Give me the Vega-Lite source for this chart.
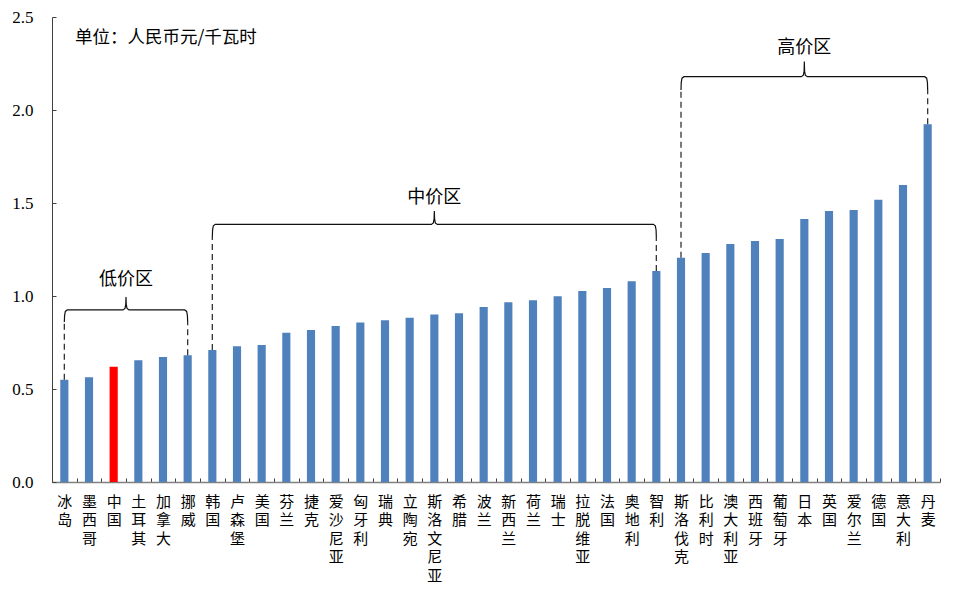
{
  "$schema": "https://vega.github.io/schema/vega-lite/v6.json",
  "width": 888,
  "height": 465,
  "autosize": {"type": "none"},
  "padding": {"left": 52, "top": 17, "right": 38, "bottom": 114},
  "config": {"view": {"stroke": null}, "font": "Noto Sans CJK SC"},
  "datasets": {
    "bars": [
      {"c": "冰岛", "v": 0.55, "hl": "n"},
      {"c": "墨西哥", "v": 0.563, "hl": "n"},
      {"c": "中国", "v": 0.62, "hl": "y"},
      {"c": "土耳其", "v": 0.655, "hl": "n"},
      {"c": "加拿大", "v": 0.672, "hl": "n"},
      {"c": "挪威", "v": 0.682, "hl": "n"},
      {"c": "韩国", "v": 0.71, "hl": "n"},
      {"c": "卢森堡", "v": 0.73, "hl": "n"},
      {"c": "美国", "v": 0.736, "hl": "n"},
      {"c": "芬兰", "v": 0.802, "hl": "n"},
      {"c": "捷克", "v": 0.817, "hl": "n"},
      {"c": "爱沙尼亚", "v": 0.839, "hl": "n"},
      {"c": "匈牙利", "v": 0.857, "hl": "n"},
      {"c": "瑞典", "v": 0.869, "hl": "n"},
      {"c": "立陶宛", "v": 0.883, "hl": "n"},
      {"c": "斯洛文尼亚", "v": 0.901, "hl": "n"},
      {"c": "希腊", "v": 0.907, "hl": "n"},
      {"c": "波兰", "v": 0.941, "hl": "n"},
      {"c": "新西兰", "v": 0.966, "hl": "n"},
      {"c": "荷兰", "v": 0.977, "hl": "n"},
      {"c": "瑞士", "v": 0.998, "hl": "n"},
      {"c": "拉脱维亚", "v": 1.027, "hl": "n"},
      {"c": "法国", "v": 1.043, "hl": "n"},
      {"c": "奥地利", "v": 1.079, "hl": "n"},
      {"c": "智利", "v": 1.134, "hl": "n"},
      {"c": "斯洛伐克", "v": 1.206, "hl": "n"},
      {"c": "比利时", "v": 1.231, "hl": "n"},
      {"c": "澳大利亚", "v": 1.28, "hl": "n"},
      {"c": "西班牙", "v": 1.296, "hl": "n"},
      {"c": "葡萄牙", "v": 1.306, "hl": "n"},
      {"c": "日本", "v": 1.414, "hl": "n"},
      {"c": "英国", "v": 1.457, "hl": "n"},
      {"c": "爱尔兰", "v": 1.462, "hl": "n"},
      {"c": "德国", "v": 1.518, "hl": "n"},
      {"c": "意大利", "v": 1.597, "hl": "n"},
      {"c": "丹麦", "v": 1.923, "hl": "n"}
    ],
    "br": [
      {"g": "low", "o": 0, "x": 0.5, "y": 0.86},
      {"g": "low", "o": 1, "x": 0.51, "y": 0.895},
      {"g": "low", "o": 2, "x": 0.54, "y": 0.917},
      {"g": "low", "o": 3, "x": 0.62, "y": 0.925},
      {"g": "low", "o": 4, "x": 2.88, "y": 0.925},
      {"g": "low", "o": 5, "x": 2.96, "y": 0.933},
      {"g": "low", "o": 6, "x": 2.99, "y": 0.955},
      {"g": "low", "o": 7, "x": 3.0, "y": 0.995},
      {"g": "low", "o": 8, "x": 3.01, "y": 0.955},
      {"g": "low", "o": 9, "x": 3.04, "y": 0.933},
      {"g": "low", "o": 10, "x": 3.12, "y": 0.925},
      {"g": "low", "o": 11, "x": 5.38, "y": 0.925},
      {"g": "low", "o": 12, "x": 5.46, "y": 0.917},
      {"g": "low", "o": 13, "x": 5.49, "y": 0.895},
      {"g": "low", "o": 14, "x": 5.5, "y": 0.86},
      {"g": "mid", "o": 0, "x": 6.5, "y": 1.317},
      {"g": "mid", "o": 1, "x": 6.51, "y": 1.355},
      {"g": "mid", "o": 2, "x": 6.54, "y": 1.377},
      {"g": "mid", "o": 3, "x": 6.62, "y": 1.385},
      {"g": "mid", "o": 4, "x": 15.38, "y": 1.385},
      {"g": "mid", "o": 5, "x": 15.46, "y": 1.393},
      {"g": "mid", "o": 6, "x": 15.49, "y": 1.415},
      {"g": "mid", "o": 7, "x": 15.5, "y": 1.457},
      {"g": "mid", "o": 8, "x": 15.51, "y": 1.415},
      {"g": "mid", "o": 9, "x": 15.54, "y": 1.393},
      {"g": "mid", "o": 10, "x": 15.62, "y": 1.385},
      {"g": "mid", "o": 11, "x": 24.38, "y": 1.385},
      {"g": "mid", "o": 12, "x": 24.46, "y": 1.377},
      {"g": "mid", "o": 13, "x": 24.49, "y": 1.355},
      {"g": "mid", "o": 14, "x": 24.5, "y": 1.317},
      {"g": "high", "o": 0, "x": 25.5, "y": 2.108},
      {"g": "high", "o": 1, "x": 25.51, "y": 2.149},
      {"g": "high", "o": 2, "x": 25.54, "y": 2.171},
      {"g": "high", "o": 3, "x": 25.62, "y": 2.179},
      {"g": "high", "o": 4, "x": 30.38, "y": 2.179},
      {"g": "high", "o": 5, "x": 30.46, "y": 2.187},
      {"g": "high", "o": 6, "x": 30.49, "y": 2.209},
      {"g": "high", "o": 7, "x": 30.5, "y": 2.26},
      {"g": "high", "o": 8, "x": 30.51, "y": 2.209},
      {"g": "high", "o": 9, "x": 30.54, "y": 2.187},
      {"g": "high", "o": 10, "x": 30.62, "y": 2.179},
      {"g": "high", "o": 11, "x": 35.38, "y": 2.179},
      {"g": "high", "o": 12, "x": 35.46, "y": 2.171},
      {"g": "high", "o": 13, "x": 35.49, "y": 2.149},
      {"g": "high", "o": 14, "x": 35.5, "y": 2.108}
    ],
    "dash": [
      {"x": 0.5, "y": 0.55, "y2": 0.86},
      {"x": 5.5, "y": 0.682, "y2": 0.86},
      {"x": 6.5, "y": 0.71, "y2": 1.317},
      {"x": 24.5, "y": 1.134, "y2": 1.317},
      {"x": 25.5, "y": 1.206, "y2": 2.108},
      {"x": 35.5, "y": 1.923, "y2": 2.108}
    ],
    "lab": [
      {"x": 3.0, "y": 1.086, "t": "低价区"},
      {"x": 15.5, "y": 1.527, "t": "中价区"},
      {"x": 30.5, "y": 2.333, "t": "高价区"}
    ],
    "note": [
      {"x": 0.93, "y": 2.387, "t": "单位：人民币元/千瓦时"}
    ]
  },
  "layer": [
    {
      "data": {"name": "bars"},
      "mark": {"type": "bar", "width": {"band": 0.33}},
      "encoding": {
        "x": {
          "field": "c", "type": "nominal", "sort": null,
          "scale": {"paddingInner": 0, "paddingOuter": 0},
          "axis": {
            "title": null, "labelAngle": 0, "tickBand": "extent",
            "labelExpr": "split(datum.label, '')",
            "labelFont": "Noto Sans CJK SC", "labelFontSize": 15, "labelLineHeight": 18.5,
            "labelBaseline": "top", "labelPadding": 16, "labelColor": "#000",
            "tickSize": -4, "tickColor": "#404040", "domainColor": "#808080", "domainWidth": 1.5
          }
        },
        "y": {
          "field": "v", "type": "quantitative",
          "scale": {"domain": [0, 2.5], "nice": false},
          "axis": {
            "title": null, "values": [0, 0.5, 1, 1.5, 2, 2.5], "format": ".1f", "grid": false,
            "labelFont": "Liberation Serif", "labelFontSize": 17, "labelColor": "#000",
            "labelPadding": 23, "tickSize": -4, "tickColor": "#404040", "domainColor": "#404040"
          }
        },
        "color": {
          "field": "hl", "type": "nominal",
          "scale": {"domain": ["n", "y"], "range": ["#4F81BD", "#FF0000"]},
          "legend": null
        }
      }
    },
    {
      "data": {"name": "dash"},
      "mark": {"type": "rule", "color": "#333", "strokeDash": [6, 4], "strokeWidth": 1.3},
      "encoding": {
        "x": {"field": "x", "type": "quantitative", "scale": {"domain": [0, 36], "nice": false}, "axis": null},
        "y": {"field": "y", "type": "quantitative", "scale": {"domain": [0, 2.5], "nice": false}},
        "y2": {"field": "y2"}
      }
    },
    {
      "data": {"name": "br"},
      "mark": {"type": "line", "color": "#111", "strokeWidth": 1.2},
      "encoding": {
        "x": {"field": "x", "type": "quantitative", "scale": {"domain": [0, 36], "nice": false}, "axis": null},
        "y": {"field": "y", "type": "quantitative", "scale": {"domain": [0, 2.5], "nice": false}},
        "detail": {"field": "g"},
        "order": {"field": "o"}
      }
    },
    {
      "data": {"name": "lab"},
      "mark": {"type": "text", "fontSize": 18, "align": "center", "baseline": "middle", "color": "#000", "font": "Noto Sans CJK SC"},
      "encoding": {
        "x": {"field": "x", "type": "quantitative", "scale": {"domain": [0, 36], "nice": false}, "axis": null},
        "y": {"field": "y", "type": "quantitative", "scale": {"domain": [0, 2.5], "nice": false}},
        "text": {"field": "t"}
      }
    },
    {
      "data": {"name": "note"},
      "mark": {"type": "text", "fontSize": 17.5, "align": "left", "baseline": "middle", "color": "#000", "font": "Noto Sans CJK SC"},
      "encoding": {
        "x": {"field": "x", "type": "quantitative", "scale": {"domain": [0, 36], "nice": false}, "axis": null},
        "y": {"field": "y", "type": "quantitative", "scale": {"domain": [0, 2.5], "nice": false}},
        "text": {"field": "t"}
      }
    }
  ],
  "resolve": {"scale": {"x": "independent"}}
}
